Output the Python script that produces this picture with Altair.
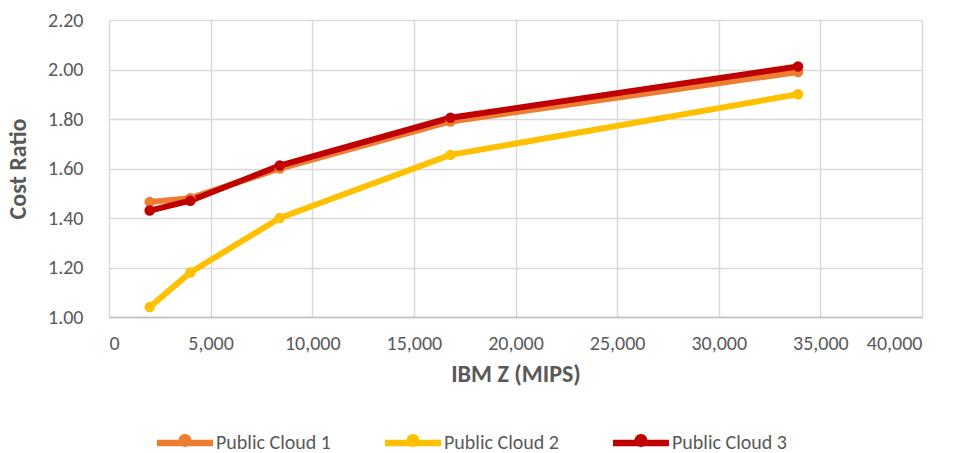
import altair as alt
import pandas as pd

mips = [2000, 4000, 8400, 16800, 33900]
series_names = ["Public Cloud 1", "Public Cloud 2", "Public Cloud 3"]
cloud1 = [1.465, 1.48, 1.60, 1.79, 1.99]
cloud2 = [1.04, 1.18, 1.40, 1.655, 1.90]
cloud3 = [1.43, 1.47, 1.612, 1.805, 2.012]
colors = ["#ED7D31", "#FFC000", "#C00000"]

rows = []
for name, vals in zip(series_names, [cloud1, cloud2, cloud3]):
    for x, y in zip(mips, vals):
        rows.append({"series": name, "mips": x, "ratio": y})
df = pd.DataFrame(rows)

FONT = "Carlito, Lato, sans-serif"
LEG_PATH = ("M-1,-0.118 L1,-0.118 L1,0.118 L-1,0.118 Z "
            "M0,-0.322 A0.232,0.232 0 1 1 0,0.142 A0.232,0.232 0 1 1 0,-0.322 Z")

legend = alt.Legend(title=None, orient="none", direction="horizontal",
                    legendX=48, legendY=395,
                    symbolType=LEG_PATH, symbolSize=3136,
                    symbolStrokeWidth=0, symbolOpacity=1,
                    labelFontSize=20, labelFont=FONT, labelColor="#595959",
                    labelOffset=3, columnPadding=54)

xenc = alt.X("mips:Q", title="IBM Z (MIPS)",
             scale=alt.Scale(domain=[0, 40000], nice=False),
             axis=alt.Axis(values=list(range(0, 40001, 5000)), format=",.0f",
                           labelFontSize=20, labelColor="#595959", labelFont=FONT,
                           labelPadding=16, titleFontSize=24, titleFont=FONT,
                           titleColor="#595959", titleFontWeight="bold", titlePadding=9,
                           ticks=False, domain=True, domainColor="#bfbfbf", domainWidth=1.5,
                           grid=True, gridColor="#d9d9d9", gridWidth=1.5))
yenc = alt.Y("ratio:Q", title="Cost Ratio",
             scale=alt.Scale(domain=[1.0, 2.2], nice=False, zero=False),
             axis=alt.Axis(values=[1.0, 1.2, 1.4, 1.6, 1.8, 2.0, 2.2], format=".2f",
                           labelFontSize=20, labelColor="#595959", labelFont=FONT,
                           labelPadding=26, titleFontSize=24, titleFont=FONT,
                           titleColor="#595959", titleFontWeight="bold",
                           titleX=-84, titleBaseline="alphabetic",
                           ticks=False, domain=False,
                           grid=True, gridColor="#d9d9d9", gridWidth=1.5))

color_scale = alt.Scale(domain=series_names, range=colors)

lines = alt.Chart(df).mark_line(strokeWidth=6, strokeCap="round", strokeJoin="round").encode(
    x=xenc, y=yenc,
    color=alt.Color("series:N", scale=color_scale, legend=legend),
    order=alt.Order("mips:Q"),
)
points = alt.Chart(df).mark_circle(size=110, opacity=1).encode(
    x=xenc, y=yenc,
    color=alt.Color("series:N", scale=color_scale, legend=legend),
)

chart = alt.layer(lines, points).properties(
    width=813, height=297,
    autosize=alt.AutoSizeParams(type="none"),
    padding={"left": 109, "top": 20, "right": 32, "bottom": 136},
).configure_view(stroke=None).configure(background="white")

chart.save("out.html", embed_options={"renderer": "svg", "actions": False})
